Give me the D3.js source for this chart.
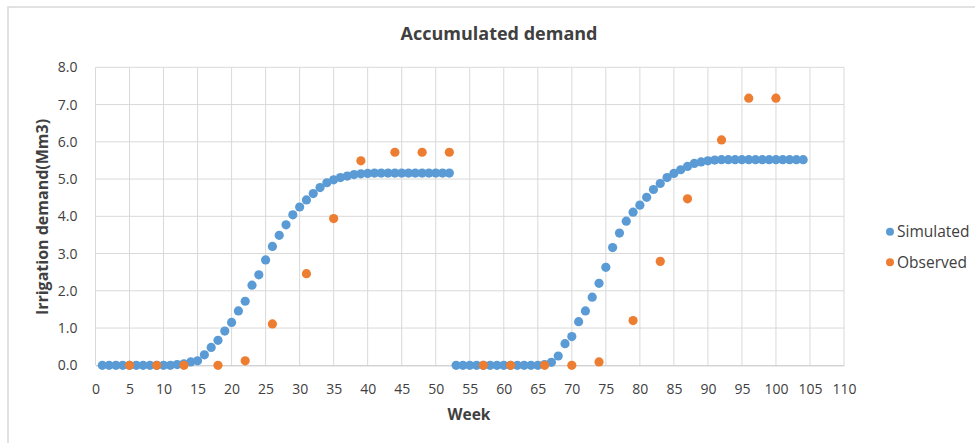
<!DOCTYPE html>
<html>
<head>
<meta charset="utf-8">
<script src="https://cdn.jsdelivr.net/npm/d3@7"></script>
<style>
  body { margin: 0; background: #fff; }
  text { font-family: "Open Sans", "Liberation Sans", sans-serif; fill: #404040; }
</style>
</head>
<body>
<div class="chartBox"></div>
<script>
// simulated accumulated demand, weeks 1-52 and 53-104
var simWeeks1 = d3.range(1, 53);
var simValues1 = [0, 0, 0, 0, 0, 0, 0, 0, 0, 0, 0, 0.02, 0.04, 0.09, 0.12, 0.28, 0.48, 0.67, 0.92, 1.15,
    1.46, 1.72, 2.15, 2.43, 2.83, 3.19, 3.49, 3.77, 4.04, 4.25, 4.44, 4.61, 4.77, 4.9, 4.98, 5.04,
    5.08, 5.12, 5.14, 5.15, 5.16, 5.16, 5.16, 5.16, 5.16, 5.16, 5.16, 5.16, 5.16, 5.16, 5.16, 5.16];
var simWeeks2 = d3.range(53, 105);
var simValues2 = [0, 0, 0, 0, 0, 0, 0, 0, 0, 0, 0, 0, 0, 0.02, 0.08, 0.25, 0.58, 0.77, 1.17, 1.46,
    1.83, 2.2, 2.63, 3.16, 3.55, 3.87, 4.11, 4.3, 4.51, 4.72, 4.88, 5.04, 5.15, 5.25, 5.34, 5.42,
    5.46, 5.49, 5.51, 5.52, 5.52, 5.52, 5.52, 5.52, 5.52, 5.52, 5.52, 5.52, 5.52, 5.52, 5.52, 5.52];

var obsWeeks = [5, 9, 13, 18, 22, 26, 31, 35, 39, 44, 48, 52, 57, 61, 66, 70, 74, 79, 83, 87, 92, 96, 100];
var obsValues = [0, 0, 0, 0, 0.12, 1.11, 2.46, 3.94, 5.49, 5.72, 5.72, 5.72, 0, 0, 0, 0, 0.09, 1.2, 2.79, 4.47, 6.05, 7.17, 7.17];

var xTicks = d3.range(0, 111, 5);
var yTicks = d3.range(0, 8.1, 1);

var simulated = simWeeks1.concat(simWeeks2).map(function (w, i) {
    return { x: w, y: simValues1.concat(simValues2)[i] };
});
var observed = obsWeeks.map(function (w, i) { return { x: w, y: obsValues[i] }; });

var width = 975, height = 443;
var blue = '#5b9bd5', orange = '#ed7d31';

var svg = d3.select('.chartBox')
    .append('svg')
    .attr('width', width)
    .attr('height', height);

// outer chart border
svg.append('rect')
    .attr('x', 8).attr('y', 7)
    .attr('width', width + 10).attr('height', height + 10)
    .attr('fill', 'none')
    .attr('stroke', '#d9d9d9')
    .attr('stroke-width', 1.5);

var x = d3.scaleLinear().domain([0, 110]).range([95.5, 844]);
var y = d3.scaleLinear().domain([0, 8]).range([365.3, 67.3]);

// grid
svg.append('g')
    .selectAll('line.hgrid')
    .data(yTicks.slice(1))
    .enter().append('line')
    .attr('x1', x(0)).attr('x2', x(110))
    .attr('y1', d => y(d)).attr('y2', d => y(d))
    .attr('stroke', '#d9d9d9').attr('stroke-width', 1);

svg.append('g')
    .selectAll('line.vgrid')
    .data(xTicks)
    .enter().append('line')
    .attr('x1', d => x(d)).attr('x2', d => x(d))
    .attr('y1', y(0)).attr('y2', y(8))
    .attr('stroke', '#d9d9d9').attr('stroke-width', 1);

// axes
var xAxis = svg.append('g')
    .attr('transform', 'translate(0,' + y(0) + ')')
    .call(d3.axisBottom(x).tickValues(xTicks).tickSize(0).tickPadding(19));
xAxis.select('.domain').attr('stroke', '#bfbfbf');

var yAxis = svg.append('g')
    .attr('transform', 'translate(' + x(0) + ',0)')
    .call(d3.axisLeft(y).tickValues(yTicks).tickFormat(d3.format('.1f')).tickSize(0).tickPadding(18));
yAxis.select('.domain').remove();

svg.selectAll('.tick text')
    .style('font-family', '"Open Sans", "Liberation Sans", sans-serif')
    .style('font-size', '14px')
    .attr('fill', '#404040');

// points
svg.append('g')
    .selectAll('circle')
    .data(simulated)
    .enter().append('circle')
    .attr('cx', d => x(d.x))
    .attr('cy', d => y(d.y))
    .attr('r', 4.6)
    .attr('fill', blue);

svg.append('g')
    .selectAll('circle')
    .data(observed)
    .enter().append('circle')
    .attr('cx', d => x(d.x))
    .attr('cy', d => y(d.y))
    .attr('r', 4.6)
    .attr('fill', orange);

// titles
svg.append('text')
    .attr('x', 499).attr('y', 40)
    .attr('text-anchor', 'middle')
    .style('font-size', '18px')
    .style('font-weight', 'bold')
    .attr('fill', '#000')
    .text('Accumulated demand');

svg.append('text')
    .attr('x', 469).attr('y', 420)
    .attr('text-anchor', 'middle')
    .style('font-size', '15.5px')
    .style('font-weight', 'bold')
    .attr('fill', '#000')
    .text('Week');

svg.append('text')
    .attr('transform', 'translate(48,217) rotate(-90)')
    .attr('text-anchor', 'middle')
    .style('font-size', '16px')
    .style('font-weight', 'bold')
    .attr('fill', '#000')
    .text('Irrigation demand(Mm3)');

// legend
var legend = svg.append('g');
var legendItems = [
    { name: 'Simulated', color: blue, y: 231.7 },
    { name: 'Observed', color: orange, y: 262.3 }
];
legendItems.forEach(function (item) {
    legend.append('circle')
        .attr('cx', 890).attr('cy', item.y)
        .attr('r', 4)
        .attr('fill', item.color);
    legend.append('text')
        .attr('x', 897).attr('y', item.y + 5.5)
        .style('font-size', '15.5px')
        .attr('fill', '#404040')
        .text(item.name);
});
</script>
</body>
</html>
